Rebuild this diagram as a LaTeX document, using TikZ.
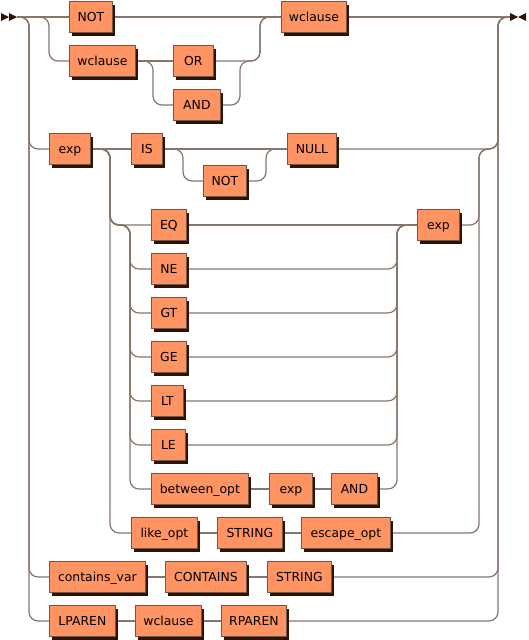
\documentclass[tikz,border=0pt]{standalone}
\usepackage{fontspec}
\newfontfamily\rrfont{DejaVu Sans}
\usetikzlibrary{shadows,backgrounds}
\definecolor{rrfill}{RGB}{255,148,98}
\definecolor{rrborder}{RGB}{112,88,72}
\definecolor{rrshadow}{RGB}{51,17,0}
\definecolor{rrline}{RGB}{134,118,108}

\begin{document}
\begin{tikzpicture}[x=1pt,y=-1pt,
    rrbox/.style={draw=rrborder, fill=rrfill, line width=0.8pt, anchor=west, minimum height=31pt, inner sep=0pt, text height=9pt, text depth=0pt, font=\rrfont\fontsize{12.4}{14}\selectfont, drop shadow={shadow xshift=3pt, shadow yshift=-3pt, fill=rrshadow, opacity=1}},
    rr/.style={draw=rrline, line width=1.2pt, rounded corners=9pt},
    rrtip/.style={fill=rrshadow}]
    \useasboundingbox (0,0) rectangle (528,640);

    %Start and end marks
    \fill[rrtip] (1,13) -- (9,17) -- (1,21) -- cycle;
    \fill[rrtip] (9,13) -- (17,17) -- (9,21) -- cycle;
    \fill[rrtip] (510,13) -- (518,17) -- (510,21) -- cycle;
    \fill[rrtip] (526,13) -- (518,17) -- (526,21) -- cycle;
    \coordinate (start) at (17,17);
    \coordinate (finish) at (510,17);

    %Rails
    \coordinate (railL) at (29,17);
    \coordinate (railR) at (498,17);
    \coordinate (railA) at (49,17);
    \coordinate (railB) at (153,61);
    \coordinate (railC) at (240,61);
    \coordinate (railD) at (260,17);
    \coordinate (railE) at (183,149);
    \coordinate (railF) at (266,149);
    \coordinate (railG) at (110,149);
    \coordinate (railH) at (479,149);
    \coordinate (railI) at (130,225);
    \coordinate (railJ) at (397,225);

    % Row: NOT / wclause (OR | AND) then wclause
    \node[rrbox, minimum width=43pt] (not1) at (69,17) {NOT};
    \node[rrbox, minimum width=65pt] (wcltop) at (281,17) {wclause};
    \node[rrbox, minimum width=66pt] (wclor) at (69,61) {wclause};
    \node[rrbox, minimum width=40pt] (orbox) at (173,61) {OR};
    \node[rrbox, minimum width=47pt] (andor) at (173,105) {AND};

    % Row: exp IS [NOT] NULL
    \node[rrbox, minimum width=41pt] (exp1) at (49,149) {exp};
    \node[rrbox, minimum width=31pt] (isbox) at (131,149) {IS};
    \node[rrbox, minimum width=43pt] (notnull) at (203,181) {NOT};
    \node[rrbox, minimum width=49pt] (null) at (287,149) {NULL};

    % Rows: operators then exp
    \node[rrbox, minimum width=35pt] (eq) at (151,225) {EQ};
    \node[rrbox, minimum width=35pt] (ne) at (151,269) {NE};
    \node[rrbox, minimum width=35pt] (gt) at (151,313) {GT};
    \node[rrbox, minimum width=35pt] (ge) at (151,357) {GE};
    \node[rrbox, minimum width=32pt] (lt) at (151,401) {LT};
    \node[rrbox, minimum width=34pt] (le) at (151,445) {LE};
    \node[rrbox, minimum width=97pt] (betw) at (151,489) {between\_opt};
    \node[rrbox, minimum width=43pt] (expb) at (269,489) {exp};
    \node[rrbox, minimum width=46pt] (andb) at (331,489) {AND};
    \node[rrbox, minimum width=42pt] (expcmp) at (417,225) {exp};

    % Row: like_opt STRING escape_opt
    \node[rrbox, minimum width=66pt] (like) at (131,533) {like\_opt};
    \node[rrbox, minimum width=65pt] (strlike) at (217,533) {STRING};
    \node[rrbox, minimum width=89pt] (esc) at (301,533) {escape\_opt};

    % Row: contains_var CONTAINS STRING
    \node[rrbox, minimum width=96pt] (cvar) at (49,577) {contains\_var};
    \node[rrbox, minimum width=81pt] (contains) at (165,577) {CONTAINS};
    \node[rrbox, minimum width=64pt] (strcont) at (267,577) {STRING};

    % Row: LPAREN wclause RPAREN
    \node[rrbox, minimum width=66pt] (lparen) at (49,621) {LPAREN};
    \node[rrbox, minimum width=66pt] (wclpar) at (135,621) {wclause};
    \node[rrbox, minimum width=65pt] (rparen) at (221,621) {RPAREN};

    \begin{scope}[on background layer]
    %Lines: top
    \draw[rr] (start) -- (not1.west);
    \draw[rr] (not1.east) -- (wcltop.west);
    \draw[rr] (wcltop.east) -- (finish);
    \draw[rr] (start) -- (railA) |- (wclor.west);
    \draw[rr] (wclor.east) -- (orbox.west);
    \draw[rr] (wclor.east) -- (railB) |- (andor.west);
    \draw[rr] (orbox.east) -| (railD) -- (wcltop.west);
    \draw[rr] (andor.east) -| (railC) -| (railD) -- (wcltop.west);
    %Lines: outer choice
    \draw[rr] (start) -- (railL) |- (exp1.west);
    \draw[rr] (start) -- (railL) |- (cvar.west);
    \draw[rr] (start) -- (railL) |- (lparen.west);
    %Lines: exp IS [NOT] NULL
    \draw[rr] (exp1.east) -- (isbox.west);
    \draw[rr] (isbox.east) -- (null.west);
    \draw[rr] (isbox.east) -- (railE) |- (notnull.west);
    \draw[rr] (notnull.east) -| (railF) -- (null.west);
    \draw[rr] (null.east) -| (railR) -- (finish);
    %Lines: operators
    \draw[rr] (exp1.east) -- (railG) |- (eq.west);
    \draw[rr] (exp1.east) -- (railG) |- (railI) |- (ne.west);
    \draw[rr] (exp1.east) -- (railG) |- (railI) |- (gt.west);
    \draw[rr] (exp1.east) -- (railG) |- (railI) |- (ge.west);
    \draw[rr] (exp1.east) -- (railG) |- (railI) |- (lt.west);
    \draw[rr] (exp1.east) -- (railG) |- (railI) |- (le.west);
    \draw[rr] (exp1.east) -- (railG) |- (railI) |- (betw.west);
    \draw[rr] (betw.east) -- (expb.west);
    \draw[rr] (expb.east) -- (andb.west);
    \draw[rr] (eq.east) -- (expcmp.west);
    \draw[rr] (ne.east) -| (railJ) -- (expcmp.west);
    \draw[rr] (gt.east) -| (railJ) -- (expcmp.west);
    \draw[rr] (ge.east) -| (railJ) -- (expcmp.west);
    \draw[rr] (lt.east) -| (railJ) -- (expcmp.west);
    \draw[rr] (le.east) -| (railJ) -- (expcmp.west);
    \draw[rr] (andb.east) -| (railJ) -- (expcmp.west);
    \draw[rr] (expcmp.east) -| (railH) -| (railR) -- (finish);
    %Lines: like_opt
    \draw[rr] (exp1.east) -- (railG) |- (like.west);
    \draw[rr] (like.east) -- (strlike.west);
    \draw[rr] (strlike.east) -- (esc.west);
    \draw[rr] (esc.east) -| (railH) -| (railR) -- (finish);
    %Lines: contains_var and LPAREN
    \draw[rr] (cvar.east) -- (contains.west);
    \draw[rr] (contains.east) -- (strcont.west);
    \draw[rr] (strcont.east) -| (railR) -- (finish);
    \draw[rr] (lparen.east) -- (wclpar.west);
    \draw[rr] (wclpar.east) -- (rparen.west);
    \draw[rr] (rparen.east) -| (railR) -- (finish);
    \end{scope}
\end{tikzpicture}
\end{document}
